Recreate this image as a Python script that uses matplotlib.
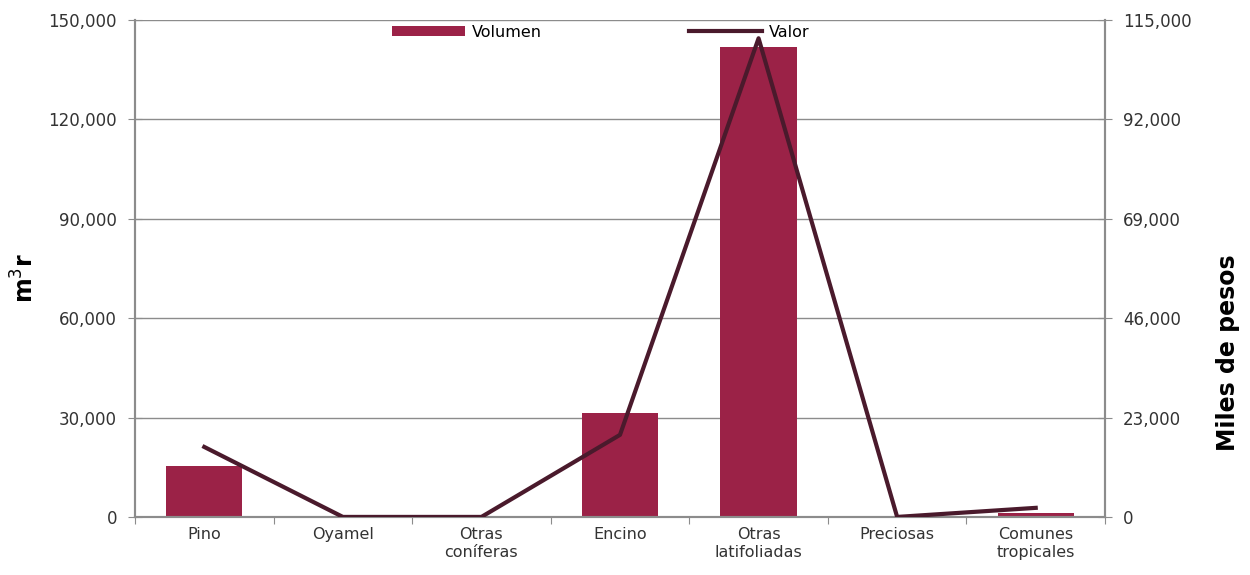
import matplotlib
matplotlib.use('Agg')

import matplotlib.pyplot as plt
import numpy as np
from matplotlib.ticker import FuncFormatter

categorias = ['Pino', 'Oyamel', 'Otras\nconíferas', 'Encino',
              'Otras\nlatifoliadas', 'Preciosas', 'Comunes\ntropicales']
volumen = [15400, 0, 0, 31400, 141900, 0, 1200]      # m3r
valor = [16200, 0, 0, 19000, 110800, 0, 2100]        # miles de pesos

color_bar = '#9B2247'
color_line = '#4A1A2C'
gris = '#8C8C8C'

plt.rcParams['font.family'] = ['DejaVu Sans']

fig = plt.figure(figsize=(12.5, 5.75), dpi=100)
ax = fig.add_axes([0.108, 0.101, 0.776, 0.864])
ax2 = ax.twinx()

x = np.arange(len(categorias))
ax.bar(x, volumen, width=0.55, color=color_bar, label='Volumen', zorder=2)
ax2.plot(x, valor, color=color_line, lw=3, label='Valor', zorder=3)

ax.set_xlim(-0.5, len(categorias) - 0.5)
ax.set_ylim(0, 150000)
ax.set_yticks(np.arange(0, 150001, 30000))
ax2.set_ylim(0, 115000)
ax2.set_yticks(np.arange(0, 115001, 23000))

fmt = FuncFormatter(lambda v, p: '{:,.0f}'.format(v))
ax.yaxis.set_major_formatter(fmt)
ax2.yaxis.set_major_formatter(fmt)

ax.yaxis.grid(True, color=gris, lw=1)
ax.set_axisbelow(True)

# ticks at category boundaries, labels at centers
ax.set_xticks(np.arange(-0.5, len(categorias) + 0.5, 1))
ax.set_xticklabels([])
ax.set_xticks(x, minor=True)
ax.set_xticklabels(categorias, minor=True, fontsize=11.5, color='#333333', linespacing=1.25)
ax.tick_params(axis='x', which='minor', length=0, pad=7)
ax.tick_params(axis='x', which='major', length=5, color=gris)

ax.tick_params(axis='y', direction='inout', length=10, color=gris, labelsize=12, labelcolor='#333333', pad=8)
ax2.tick_params(axis='y', direction='inout', length=10, color=gris, labelsize=12, labelcolor='#333333', pad=8)

for a in (ax, ax2):
    a.spines['top'].set_visible(False)
    for s in ('left', 'right', 'bottom'):
        a.spines[s].set_color(gris)
        a.spines[s].set_linewidth(1.5)

ax.set_ylabel('m$^3$r', fontsize=17, fontweight='bold')
ax.yaxis.set_label_coords(-0.099, 0.48)
ax2.set_ylabel('Miles de pesos', fontsize=17, fontweight='bold')
ax2.yaxis.set_label_coords(1.114, 0.33)

h1, l1 = ax.get_legend_handles_labels()
h2, l2 = ax2.get_legend_handles_labels()
leg = ax2.legend(h1 + h2, l1 + l2, loc='upper center', bbox_to_anchor=(0.48, 1.02),
                 ncol=2, frameon=False, fontsize=11.5, handlelength=4.6,
                 handleheight=0.6, columnspacing=9.2, handletextpad=0.4)

fig.savefig('out.png', dpi=100)
